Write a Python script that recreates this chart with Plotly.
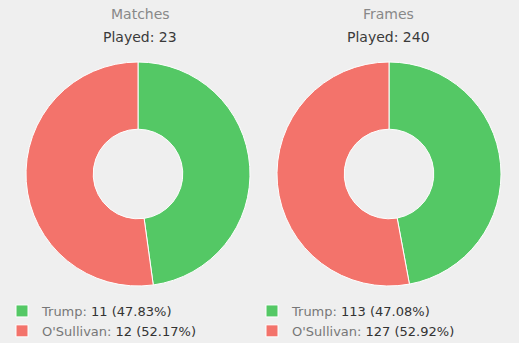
import plotly.graph_objects as go

players = ["Trump", "O'Sullivan"]
matches_won = [11, 12]
frames_won = [113, 127]
colors = ["#54c865", "#f3736b"]
bg = "#efefef"

def labels_for(values, suffix=""):
    total = sum(values)
    out = []
    for p, v in zip(players, values):
        pct = 100 * v / total
        out.append(f"<span style='color:#777'>{p}:</span> <span style='color:#333'>{v} ({pct:.2f}%)</span>{suffix}")
    return out

W, H = 519, 343

def dom_x(cx, r):
    return [(cx - r) / W, (cx + r) / W]

def dom_y(cy, r):
    return [1 - (cy + r) / H, 1 - (cy - r) / H]

R = 112
CY = 174

fig = go.Figure()
fig.add_trace(go.Pie(
    labels=labels_for(matches_won), values=matches_won,
    marker=dict(colors=colors, line=dict(color="white", width=1)),
    hole=0.4, sort=False, direction="clockwise", rotation=0,
    textinfo="none", domain=dict(x=dom_x(138, R), y=dom_y(CY, R)),
    legend="legend",
))
fig.add_trace(go.Pie(
    labels=labels_for(frames_won, " "), values=frames_won,
    marker=dict(colors=colors, line=dict(color="white", width=1)),
    hole=0.4, sort=False, direction="clockwise", rotation=0,
    textinfo="none", domain=dict(x=dom_x(389, R), y=dom_y(CY, R)),
    legend="legend2",
))

font = "DejaVu Sans, Verdana, sans-serif"
annots = []
for cx, t1, t2 in [(140, "Matches", f"Played: {sum(matches_won)}"),
                   (388, "Frames", f"Played: {sum(frames_won)}")]:
    annots.append(dict(x=cx / W, y=1 - 14 / H, xref="paper", yref="paper",
                       text=t1, showarrow=False, font=dict(size=14, color="#888", family=font),
                       xanchor="center", yanchor="middle"))
    annots.append(dict(x=cx / W, y=1 - 37 / H, xref="paper", yref="paper",
                       text=t2, showarrow=False, font=dict(size=14, color="#3a3a3a", family=font),
                       xanchor="center", yanchor="middle"))

legend_common = dict(font=dict(size=13, family=font, color="#333"),
                     bgcolor="rgba(0,0,0,0)", tracegroupgap=0, itemwidth=30,
                     xanchor="left", yanchor="top", traceorder="normal")
fig.update_layout(
    width=W, height=H,
    margin=dict(l=0, r=0, t=0, b=0, autoexpand=False),
    paper_bgcolor=bg, plot_bgcolor=bg,
    annotations=annots,
    showlegend=True,
    legend=dict(x=2 / W, y=1 - 296 / H, **legend_common),
    legend2=dict(x=252 / W, y=1 - 296 / H, **legend_common),
)
fig.write_html("out.html")
